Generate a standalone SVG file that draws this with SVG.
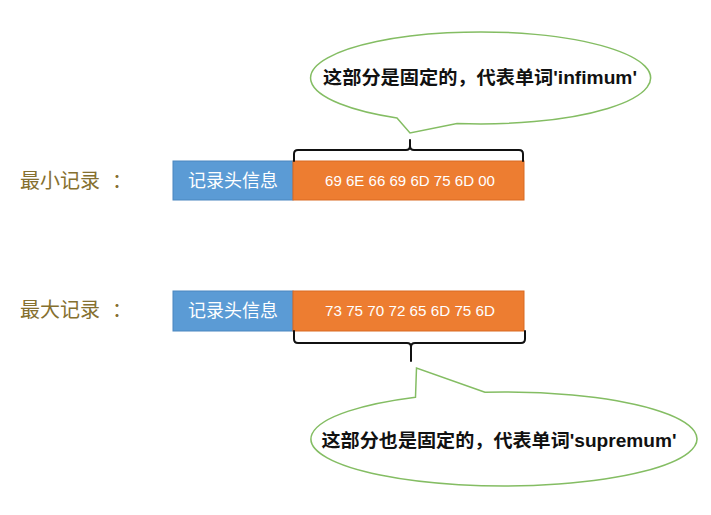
<svg xmlns="http://www.w3.org/2000/svg" width="711" height="515" viewBox="0 0 711 515">
<style>
.lbl{font-family:"Liberation Sans","Noto Sans CJK SC",sans-serif;font-size:20px;fill:#85702f}
.hdr{font-family:"Liberation Sans","Noto Sans CJK SC",sans-serif;font-size:18px;fill:#ffffff}
.hex{font-family:"Liberation Sans","Noto Sans CJK SC",sans-serif;font-size:15px;fill:#ffffff}
.call{font-family:"Liberation Sans","Noto Sans CJK SC",sans-serif;font-size:18.5px;font-weight:bold;fill:#111111}
.blue{fill:#5b9bd5;stroke:#4a86bf;stroke-width:1}
.orange{fill:#ed7d31;stroke:#d96a22;stroke-width:1}
.bubble{fill:#ffffff;stroke:#84bd63;stroke-width:1.5}
.brace{fill:none;stroke:#111111;stroke-width:2;stroke-linejoin:round;stroke-linecap:round}
</style>
<rect width="711" height="515" fill="#ffffff"/>
<g id="min-label"><text class="lbl" x="20" y="188">最小记录<tspan x="112">：</tspan></text></g>
<g id="min-header"><rect class="blue" x="173" y="161" width="120" height="39"/><text class="hdr" x="233" y="187" text-anchor="middle">记录头信息</text></g>
<g id="min-data"><rect class="orange" x="293" y="161" width="231" height="39"/><text class="hex" x="410" y="186" text-anchor="middle" textLength="170" lengthAdjust="spacingAndGlyphs">69 6E 66 69 6D 75 6D 00</text></g>
<g id="max-label"><text class="lbl" x="20" y="317">最大记录<tspan x="112">：</tspan></text></g>
<g id="max-header"><rect class="blue" x="173" y="291" width="120" height="40"/><text class="hdr" x="233" y="317" text-anchor="middle">记录头信息</text></g>
<g id="max-data"><rect class="orange" x="293" y="291" width="231" height="40"/><text class="hex" x="410" y="316" text-anchor="middle" textLength="170" lengthAdjust="spacingAndGlyphs">73 75 70 72 65 6D 75 6D</text></g>
<g id="top-callout">
<path class="bubble" d="M397,118 L410,133 L457,123.5 A170,46 0 1 0 397,118 Z"/>
<text class="call" x="480" y="84" text-anchor="middle" textLength="314" lengthAdjust="spacingAndGlyphs">这部分是固定的，代表单词'infimum'</text>
</g>
<g id="bottom-callout">
<path class="bubble" d="M485,392.2 L416.5,368 L415.5,397.2 A193,47 0 1 0 485,392.2 Z"/>
<text class="call" x="499" y="447" text-anchor="middle" textLength="355" lengthAdjust="spacingAndGlyphs">这部分也是固定的，代表单词'supremum'</text>
</g>
<g id="connectors">
<path class="brace" d="M294,161 L294,154 Q294,150 298,150 L406,150 Q410,150 410,146 L410,140 M410,146 Q410,150 414,150 L519,150 Q523,150 523,154 L523,161"/>
<path class="brace" d="M294,331 L294,339 Q294,343 298,343 L407,343 Q411,343 411,347 L411,361 M411,347 Q411,343 415,343 L521,343 Q525,343 525,339 L525,331"/>
</g>
</svg>
